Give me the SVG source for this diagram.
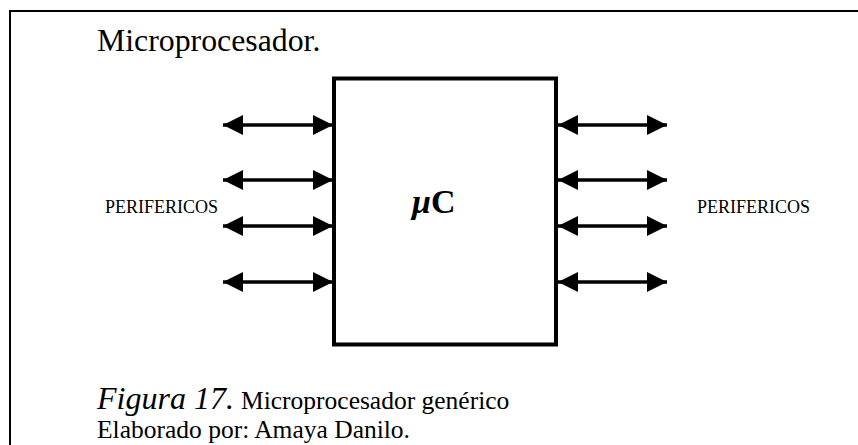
<svg xmlns="http://www.w3.org/2000/svg" width="858" height="445" viewBox="0 0 858 445">
<style>
text{font-family:"Liberation Serif","DejaVu Serif",serif;fill:#000}
.conn line{stroke:#000;stroke-width:3.5}
</style>
<defs>
<marker id="ah" markerUnits="userSpaceOnUse" markerWidth="20" markerHeight="20" viewBox="0 0 20 20" refX="20" refY="10" orient="auto-start-reverse">
<path d="M0,0 L20,10 L0,20 Z" fill="#000"/>
</marker>
</defs>
<rect width="858" height="445" fill="#fff"/>
<path d="M10,445 V11 H858" fill="none" stroke="#000" stroke-width="2"/>
<text x="97" y="51" font-size="31.8">Microprocesador.</text>
<g id="uc">
<rect x="334" y="78.5" width="222" height="266" fill="#fff" stroke="#000" stroke-width="4"/>
<text x="412" y="213" font-size="34" font-weight="bold"><tspan font-style="italic">μ</tspan>C</text>
</g>
<g id="perif-left"><text x="105" y="213" font-size="18">PERIFERICOS</text></g>
<g id="perif-right"><text x="697" y="213" font-size="18">PERIFERICOS</text></g>
<g class="conn" id="connectors">
<line x1="223" y1="125" x2="333" y2="125" marker-start="url(#ah)" marker-end="url(#ah)"/>
<line x1="223" y1="180" x2="333" y2="180" marker-start="url(#ah)" marker-end="url(#ah)"/>
<line x1="223" y1="226" x2="333" y2="226" marker-start="url(#ah)" marker-end="url(#ah)"/>
<line x1="223" y1="282" x2="333" y2="282" marker-start="url(#ah)" marker-end="url(#ah)"/>
<line x1="558" y1="125" x2="667" y2="125" marker-start="url(#ah)" marker-end="url(#ah)"/>
<line x1="558" y1="180" x2="667" y2="180" marker-start="url(#ah)" marker-end="url(#ah)"/>
<line x1="558" y1="226" x2="667" y2="226" marker-start="url(#ah)" marker-end="url(#ah)"/>
<line x1="558" y1="282" x2="667" y2="282" marker-start="url(#ah)" marker-end="url(#ah)"/>
</g>
<text x="97" y="409" font-size="32" font-style="italic">Figura 17.</text>
<text x="241" y="409" font-size="25.5">Microprocesador genérico</text>
<text x="97" y="438" font-size="25.5">Elaborado por: Amaya Danilo.</text>
</svg>
